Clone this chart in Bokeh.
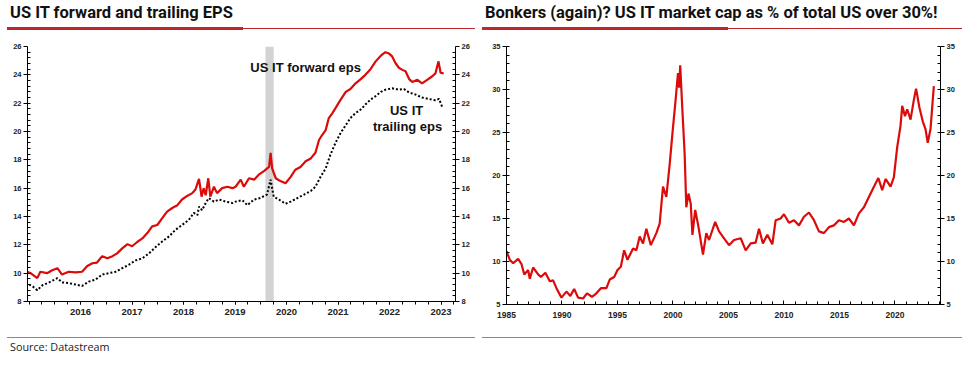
from bokeh.plotting import figure
from bokeh.layouts import row, column
from bokeh.models import Range1d, LinearAxis, FixedTicker, BoxAnnotation, Label, Div
from bokeh.embed import file_html
from bokeh.resources import INLINE
import numpy as np

# ---------------- data: left panel (US IT EPS) ----------------
fwd_year = [2015.43, 2015.53, 2015.66, 2015.72, 2015.85, 2015.95, 2016.05, 2016.14, 2016.27, 2016.40,
            2016.53, 2016.63, 2016.73, 2016.82, 2016.92, 2017.02, 2017.12, 2017.21, 2017.31, 2017.41,
            2017.50, 2017.60, 2017.70, 2017.80, 2017.89, 2017.99, 2018.09, 2018.18, 2018.28, 2018.38,
            2018.47, 2018.57, 2018.67, 2018.73, 2018.80, 2018.85, 2018.89, 2018.93, 2018.98, 2019.02,
            2019.09, 2019.15, 2019.25, 2019.35, 2019.45, 2019.51, 2019.61, 2019.67, 2019.77, 2019.87,
            2019.96, 2020.06, 2020.16, 2020.19, 2020.22, 2020.29, 2020.38, 2020.48, 2020.58, 2020.67,
            2020.77, 2020.87, 2020.97, 2021.06, 2021.13, 2021.19, 2021.26, 2021.32, 2021.39, 2021.45,
            2021.55, 2021.65, 2021.74, 2021.84, 2021.94, 2022.03, 2022.13, 2022.23, 2022.33, 2022.42,
            2022.49, 2022.55, 2022.62, 2022.68, 2022.75, 2022.81, 2022.88, 2022.94, 2023.04, 2023.13,
            2023.23, 2023.33, 2023.39, 2023.45, 2023.49, 2023.55]
fwd_eps = [10.12, 10.0, 9.65, 10.1, 10.0, 10.2, 10.35, 9.9, 10.1, 10.05,
           10.1, 10.5, 10.7, 10.75, 11.2, 11.05, 11.2, 11.4, 11.75, 12.05,
           11.9, 12.2, 12.45, 12.85, 13.3, 13.4, 13.9, 14.35, 14.6, 14.8,
           15.2, 15.45, 15.65, 15.9, 16.65, 15.4, 16.0, 15.5, 16.7, 15.4,
           16.1, 15.65, 16.0, 16.1, 16.0, 16.1, 16.6, 16.1, 16.7, 16.6,
           16.95, 17.2, 17.5, 18.5, 17.4, 16.7, 16.5, 16.35, 16.8, 17.3,
           17.5, 17.9, 18.1, 18.5, 19.4, 19.75, 20.1, 20.95, 21.3, 21.65,
           22.25, 22.8, 23.0, 23.4, 23.7, 24.0, 24.4, 24.95, 25.35, 25.6,
           25.5, 25.3, 24.8, 24.5, 24.35, 24.25, 23.7, 23.5, 23.65, 23.4,
           23.65, 23.9, 24.1, 24.95, 24.15, 24.1]

trl_year = [2015.43, 2015.56, 2015.66, 2015.76, 2015.89, 2016.05, 2016.14, 2016.27, 2016.40, 2016.53,
            2016.66, 2016.79, 2016.92, 2017.05, 2017.18, 2017.31, 2017.44, 2017.57, 2017.70, 2017.83,
            2017.96, 2018.09, 2018.22, 2018.34, 2018.47, 2018.60, 2018.70, 2018.77, 2018.80, 2018.86,
            2018.93, 2018.99, 2019.09, 2019.19, 2019.32, 2019.45, 2019.51, 2019.64, 2019.74, 2019.87,
            2019.99, 2020.12, 2020.19, 2020.25, 2020.35, 2020.48, 2020.58, 2020.71, 2020.84, 2020.97,
            2021.06, 2021.16, 2021.26, 2021.35, 2021.45, 2021.55, 2021.65, 2021.74, 2021.84, 2021.94,
            2022.03, 2022.13, 2022.23, 2022.33, 2022.42, 2022.55, 2022.68, 2022.78, 2022.88, 2023.01,
            2023.13, 2023.26, 2023.39, 2023.46, 2023.52]
trl_eps = [9.3, 9.1, 8.8, 9.15, 9.35, 9.65, 9.35, 9.3, 9.2, 9.1,
           9.4, 9.55, 9.9, 10.0, 10.1, 10.35, 10.6, 10.9, 11.05, 11.4,
           11.85, 12.25, 12.6, 13.05, 13.4, 13.75, 14.25, 14.1, 14.7, 14.45,
           14.95, 15.3, 15.05, 15.2, 15.05, 14.95, 15.05, 15.15, 14.8, 15.2,
           15.3, 15.55, 16.6, 15.4, 15.2, 14.9, 15.05, 15.3, 15.55, 15.8,
           16.1, 16.8, 17.4, 18.35, 19.2, 19.9, 20.45, 20.95, 21.3, 21.55,
           21.9, 22.25, 22.5, 22.8, 22.95, 23.05, 22.95, 23.0, 22.75, 22.6,
           22.4, 22.3, 22.2, 22.3, 21.75]

recession_start = [2020.09]
recession_end = [2020.25]

eps_year_labels = ["2016", "2017", "2018", "2019", "2020", "2021", "2022", "2023"]
eps_y_ticks = [8, 10, 12, 14, 16, 18, 20, 22, 24, 26]

# ---------------- data: right panel (IT share of market cap) ----------------
mc_year = [1985.0, 1985.3, 1985.6, 1986.05, 1986.35, 1986.6, 1986.95, 1987.1, 1987.4, 1987.85,
           1988.1, 1988.5, 1988.9, 1989.2, 1989.5, 1989.95, 1990.4, 1990.75, 1991.1, 1991.45,
           1991.9, 1992.25, 1992.7, 1993.1, 1993.5, 1994.0, 1994.3, 1994.7, 1995.0, 1995.3,
           1995.6, 1995.9, 1996.4, 1996.7, 1997.0, 1997.3, 1997.6, 1998.0, 1998.5, 1998.8,
           1999.1, 1999.4, 1999.7, 2000.0, 2000.2, 2000.45, 2000.55, 2000.65, 2000.85, 2001.05,
           2001.2, 2001.4, 2001.6, 2001.75, 2002.0, 2002.3, 2002.7, 2003.0, 2003.25, 2003.8,
           2004.15, 2004.6, 2005.05, 2005.5, 2006.1, 2006.55, 2007.0, 2007.45, 2007.75, 2008.1,
           2008.5, 2008.95, 2009.25, 2009.7, 2010.0, 2010.45, 2010.9, 2011.35, 2011.8, 2012.25,
           2012.7, 2013.15, 2013.6, 2014.05, 2014.5, 2014.95, 2015.4, 2015.85, 2016.3, 2016.75,
           2017.2, 2017.65, 2018.1, 2018.5, 2018.85, 2019.15, 2019.6, 2019.9, 2020.2, 2020.5,
           2020.65, 2020.9, 2021.1, 2021.4, 2021.7, 2021.9, 2022.2, 2022.5, 2022.75, 2022.95,
           2023.2, 2023.35, 2023.5]
mc_share = [11.2, 10.2, 9.8, 10.3, 9.7, 8.5, 9.0, 8.0, 9.3, 8.5,
            8.2, 8.7, 7.7, 7.8, 6.9, 5.8, 6.5, 6.0, 6.8, 5.8,
            5.7, 6.3, 5.9, 6.3, 6.9, 6.9, 7.9, 8.2, 9.0, 9.4,
            11.3, 10.2, 11.5, 11.3, 12.9, 12.1, 13.8, 11.9, 13.3, 14.4,
            18.7, 17.5, 21.3, 25.6, 28.3, 31.9, 30.2, 32.8, 27.5, 22.5,
            16.3, 17.9, 16.7, 13.1, 16.0, 14.0, 10.8, 13.3, 12.5, 14.6,
            13.5, 12.7, 11.9, 12.5, 12.7, 11.3, 12.1, 12.2, 13.8, 12.1,
            13.1, 12.0, 14.8, 15.0, 15.5, 14.5, 14.8, 14.2, 15.2, 15.7,
            14.8, 13.5, 13.3, 14.0, 14.2, 14.8, 14.6, 15.0, 14.2, 15.6,
            16.3, 17.5, 18.7, 19.7, 18.3, 19.6, 18.7, 19.8, 23.3, 25.8,
            28.1, 26.9, 27.7, 26.5, 28.8, 30.1, 27.9, 26.3, 25.4, 23.8,
            25.4, 27.9, 30.4]

mc_x_ticks = [1985, 1990, 1995, 2000, 2005, 2010, 2015, 2020]
mc_y_ticks = [5, 10, 15, 20, 25, 30, 35]

left_title = "US IT forward and trailing EPS"
right_title = "Bonkers (again)? US IT market cap as % of total US over 30%!"
source_text = "Source: Datastream"

# ---------------- styling ----------------
RED = "#dd0a0a"
UL_RED = "#c0272d"
TICK_FONT = "Liberation Sans"


def style_axis(ax, tick_in, tick_out, minor_in, minor_out, size="7.5px", standoff=2):
    ax.axis_line_color = "black"
    ax.axis_line_width = 1
    ax.major_tick_line_color = "black"
    ax.minor_tick_line_color = "black"
    ax.major_tick_in = tick_in
    ax.major_tick_out = tick_out
    ax.minor_tick_in = minor_in
    ax.minor_tick_out = minor_out
    ax.major_label_text_font = TICK_FONT
    ax.major_label_text_font_style = "bold"
    ax.major_label_text_font_size = size
    ax.major_label_text_color = "#222222"
    ax.major_label_standoff = standoff


def header(width, title, title_x, thick_l, thick_r, thin_r):
    html = (
        f'<div style="position:relative;width:{width}px;height:40px;overflow:hidden;">'
        f'<div style="position:absolute;left:{title_x}px;top:3px;font-family:Roboto;font-weight:bold;'
        f'font-size:16.5px;line-height:20px;color:#111111;white-space:nowrap;">{title}</div>'
        f'<div style="position:absolute;left:{thick_l}px;top:27px;width:{thick_r - thick_l}px;height:3px;'
        f'background:{UL_RED};"></div>'
        f'<div style="position:absolute;left:{thick_r}px;top:28px;width:{thin_r - thick_r}px;height:1px;'
        f'background:{UL_RED};"></div>'
        '</div>'
    )
    return Div(text=html, width=width, height=40, margin=0)


def footer(width, line_l, line_r, source):
    inner = ''
    if source:
        inner = (f'<div style="position:absolute;left:10px;top:14px;font-family:\'Open Sans\';'
                 f'font-size:10.8px;line-height:16px;color:#222222;white-space:nowrap;">{source}</div>')
    html = (
        f'<div style="position:relative;width:{width}px;height:33px;overflow:hidden;">'
        f'<div style="position:absolute;left:{line_l}px;top:12px;width:{line_r - line_l}px;height:1px;'
        f'background:#8a8a8a;"></div>' + inner + '</div>'
    )
    return Div(text=html, width=width, height=33, margin=0)


# ---------------- left chart ----------------
pL = figure(width=478, height=285, x_range=Range1d(2015.47, 2023.78), y_range=Range1d(8, 26),
            min_border_left=27, min_border_right=23, min_border_top=6, min_border_bottom=24,
            output_backend="svg", toolbar_location=None, margin=0)
pL.grid.visible = False
pL.outline_line_color = None

pL.add_layout(BoxAnnotation(left=recession_start[0], right=recession_end[0], fill_color="#d3d3d3",
                            fill_alpha=1.0, line_color=None, level="underlay"))

pL.line(trl_year, trl_eps, line_color="black", line_width=2, line_dash="2 2")
pL.line(fwd_year, fwd_eps, line_color=RED, line_width=2.2)

mid_years = [int(s) + 0.5 for s in eps_year_labels]
quarters = list(np.arange(2015.5, 2024.0, 0.25))
pL.xaxis.ticker = FixedTicker(ticks=mid_years, minor_ticks=quarters)
pL.xaxis.major_label_overrides = {m: s for m, s in zip(mid_years, eps_year_labels)}
style_axis(pL.xaxis[0], 0, 3, 0, 3, size="9.5px", standoff=4)

yminor = list(np.arange(8, 26.01, 0.4))
pL.yaxis.ticker = FixedTicker(ticks=eps_y_ticks, minor_ticks=yminor)
style_axis(pL.yaxis[0], 0, 4, 3, 0)
rax = LinearAxis(ticker=FixedTicker(ticks=eps_y_ticks, minor_ticks=yminor))
style_axis(rax, 0, 4, 3, 0)
pL.add_layout(rax, "right")

for lx, ly, lt in [(2020.87, 24.52, "US IT forward eps"), (2022.83, 21.48, "US IT"),
                   (2022.85, 20.35, "trailing eps")]:
    pL.add_layout(Label(x=lx, y=ly, text=lt, text_align="center", text_baseline="middle",
                        text_font="Liberation Sans", text_font_style="bold",
                        text_font_size="13px", text_color="#111111"))

# ---------------- right chart ----------------
pR = figure(width=492, height=285, x_range=Range1d(1985.0, 2024.1), y_range=Range1d(5, 35),
            min_border_left=28, min_border_right=30, min_border_top=6, min_border_bottom=21,
            output_backend="svg", toolbar_location=None, margin=0)
pR.grid.visible = False
pR.outline_line_color = None
pR.line(mc_year, mc_share, line_color=RED, line_width=2.2)

pR.xaxis.ticker = FixedTicker(ticks=mc_x_ticks, minor_ticks=list(range(1985, 2025)))
style_axis(pR.xaxis[0], 4, 0, 3, 0, size="8.5px", standoff=7)

ymin2 = list(range(5, 36))
pR.yaxis.ticker = FixedTicker(ticks=mc_y_ticks, minor_ticks=ymin2)
style_axis(pR.yaxis[0], 0, 4, 3, 0)
rax2 = LinearAxis(ticker=FixedTicker(ticks=mc_y_ticks, minor_ticks=ymin2))
style_axis(rax2, 0, 4, 3, 0)
pR.add_layout(rax2, "right")

# ---------------- layout ----------------
left_col = column(header(478, left_title, 10, 7, 243, 475), pL,
                  footer(478, 7, 475, source_text), spacing=0)
right_col = column(header(492, right_title, 7, 4, 250, 484),
                   pR, footer(492, 4, 484, ""), spacing=0)
page = row(left_col, right_col, spacing=0)

open("out.html", "w").write(file_html(page, INLINE))
